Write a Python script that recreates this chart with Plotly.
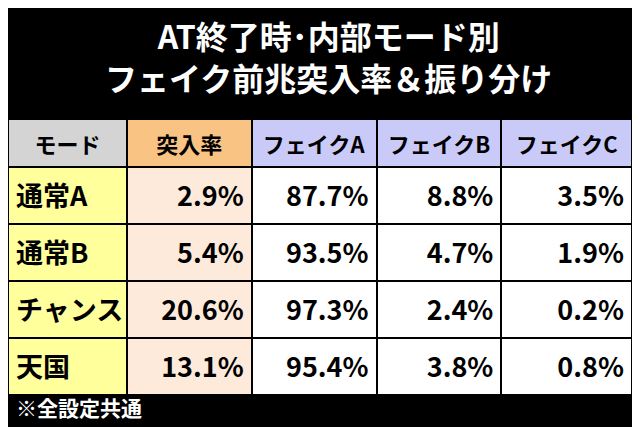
import plotly.graph_objects as go

headers = ["モード", "突入率", "フェイクA", "フェイクB", "フェイクC"]
modes = ["通常A", "通常B", "チャンス", "天国"]
rate = ["2.9", "5.4", "20.6", "13.1"]
fake_a = ["87.7", "93.5", "97.3", "95.4"]
fake_b = ["8.8", "4.7", "2.4", "3.8"]
fake_c = ["3.5", "1.9", "0.2", "0.8"]

def pct(vals):
    return [f"<b>{v}%</b>" for v in vals]

F = "Noto Sans CJK JP"
n = len(modes)
fig = go.Figure(go.Table(
    columnwidth=[122, 128, 128, 128, 134],
    header=dict(values=[f"<b>{h}</b>" for h in headers],
                fill_color=["#d4d4d4", "#f9c384", "#cacaf8", "#cacaf8", "#cacaf8"],
                line=dict(color="black", width=2),
                font=dict(family=F, size=22, color="black"),
                align="center", height=40),
    cells=dict(values=[[f"<b>{m}</b>" for m in modes], pct(rate), pct(fake_a), pct(fake_b), pct(fake_c)],
               fill_color=[["#ffff9c"]*n, ["#fdeadb"]*n, ["white"]*n, ["white"]*n, ["white"]*n],
               line=dict(color="black", width=2),
               font=dict(family=F, size=27, color="black"),
               align=["left", "right", "right", "right", "right"],
               height=57),
    domain=dict(x=[0, 0.975], y=[0.095, 0.74])
))
fig.add_annotation(text="<b>AT終了時･内部モード別<br>フェイク前兆突入率＆振り分け</b>",
                   x=0.5, y=0.995, xref="paper", yref="paper", xanchor="center", yanchor="top",
                   showarrow=False, font=dict(family=F, size=32, color="white"))
fig.add_annotation(text="<b>※全設定共通</b>", x=0.01, y=0.025, xref="paper", yref="paper",
                   xanchor="left", yanchor="bottom", showarrow=False,
                   font=dict(family=F, size=21, color="white"))
fig.update_layout(width=640, height=427, margin=dict(l=0, r=0, t=0, b=0),
                  paper_bgcolor="black", plot_bgcolor="black")
fig.write_html("out.html")
